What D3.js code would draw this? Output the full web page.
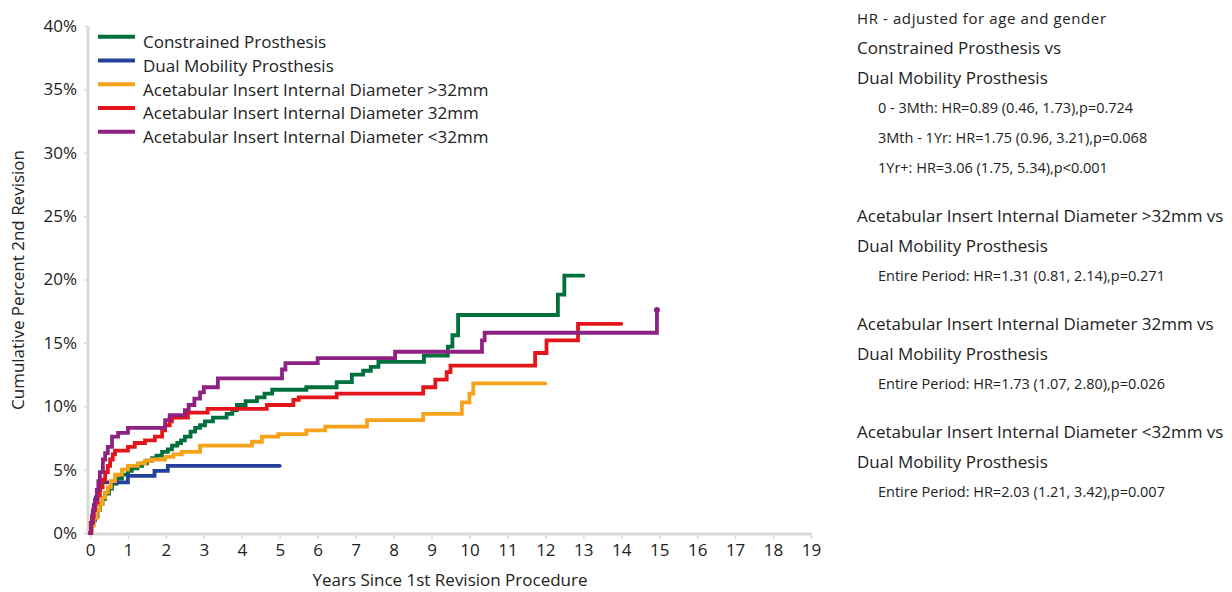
<!DOCTYPE html>
<html><head><meta charset="utf-8">
<script src="https://cdn.jsdelivr.net/npm/d3@7"></script>
<style>
body{margin:0;background:#fff;}
svg{display:block;font-family:"Open Sans","Noto Sans",sans-serif;}
</style></head>
<body><svg id="c" width="1232" height="592"></svg>
<script>
const seriesNames = ["Constrained Prosthesis","Dual Mobility Prosthesis","Acetabular Insert Internal Diameter >32mm","Acetabular Insert Internal Diameter 32mm","Acetabular Insert Internal Diameter <32mm"];
const seriesColors = ["#00703c","#23409a","#f7a21b","#e3151b","#8e2282"];
const constrained = [[0,0],[0.03,0.5],[0.06,1.0],[0.13,1.3],[0.2,1.8],[0.26,2.3],[0.33,2.7],[0.4,3.1],[0.5,3.5],[0.58,3.9],[0.7,4.3],[0.84,4.6],[1.0,4.9],[1.1,5.1],[1.25,5.3],[1.37,5.5],[1.5,5.7],[1.63,5.9],[1.75,6.1],[1.9,6.4],[2.05,6.6],[2.16,6.9],[2.3,7.1],[2.4,7.3],[2.5,7.6],[2.65,8.0],[2.77,8.3],[2.9,8.5],[3.03,8.8],[3.24,9.1],[3.6,9.4],[3.75,9.7],[3.87,10.1],[4.1,10.4],[4.4,10.7],[4.6,11.0],[4.8,11.3],[5.7,11.5],[6.5,11.9],[6.9,12.5],[7.2,12.8],[7.4,13.1],[7.6,13.5],[8.8,14.0],[9.43,14.7],[9.55,15.6],[9.7,17.2],[12.33,18.8],[12.5,20.3],[13.0,20.3]];
const dualMobility = [[0,0],[0.03,0.8],[0.07,1.6],[0.1,2.2],[0.15,2.8],[0.2,3.4],[0.27,4.0],[1.0,4.5],[1.7,4.9],[2.05,5.3],[5.0,5.3]];
const over32 = [[0,0],[0.05,0.6],[0.1,1.2],[0.18,1.8],[0.25,2.3],[0.32,2.8],[0.4,3.2],[0.47,3.6],[0.55,4.1],[0.66,4.6],[0.84,5.0],[1.0,5.3],[1.26,5.5],[1.45,5.7],[1.63,5.8],[1.98,6.0],[2.2,6.2],[2.42,6.4],[2.9,6.9],[4.27,7.2],[4.53,7.6],[4.96,7.8],[5.7,8.1],[6.2,8.4],[7.3,8.9],[8.78,9.4],[9.8,10.3],[10.0,11.0],[10.1,11.8],[12.0,11.8]];
const eq32 = [[0,0],[0.02,0.8],[0.05,1.3],[0.1,2.0],[0.13,2.4],[0.2,3.0],[0.26,3.6],[0.33,4.2],[0.4,4.8],[0.47,5.3],[0.53,5.8],[0.6,6.2],[0.66,6.5],[1.0,6.8],[1.18,7.1],[1.45,7.3],[1.71,7.6],[1.9,8.1],[1.98,8.5],[2.1,8.8],[2.16,9.1],[2.58,9.5],[3.1,9.8],[4.66,10.1],[5.36,10.5],[5.5,10.7],[6.5,11.0],[8.78,11.5],[9.1,12.1],[9.4,12.7],[9.5,13.2],[11.73,14.2],[12.03,15.2],[12.86,16.5],[14.0,16.5]];
const under32 = [[0,0],[0.03,0.8],[0.08,1.8],[0.13,2.6],[0.18,3.4],[0.22,4.1],[0.26,4.8],[0.34,5.8],[0.4,6.3],[0.47,6.8],[0.58,7.6],[0.74,7.9],[1.0,8.3],[1.98,8.9],[2.1,9.3],[2.5,9.7],[2.6,10.1],[2.75,10.6],[2.9,11.1],[3.0,11.5],[3.37,12.2],[5.06,12.9],[5.15,13.4],[6.0,13.8],[8.04,14.3],[10.33,15.2],[10.4,15.8],[14.94,17.6]];
const seriesData = [constrained, dualMobility, over32, eq32, under32];
const xTicks = d3.range(0,20);
const yTicks = [0,5,10,15,20,25,30,35,40];
const hrTitle = "HR - adjusted for age and gender";
const hrBlocks = [
  {head:["Constrained Prosthesis vs","Dual Mobility Prosthesis"], lines:["0 - 3Mth: HR=0.89 (0.46, 1.73),p=0.724","3Mth - 1Yr: HR=1.75 (0.96, 3.21),p=0.068","1Yr+: HR=3.06 (1.75, 5.34),p<0.001"]},
  {head:["Acetabular Insert Internal Diameter >32mm vs","Dual Mobility Prosthesis"], lines:["Entire Period: HR=1.31 (0.81, 2.14),p=0.271"]},
  {head:["Acetabular Insert Internal Diameter 32mm vs","Dual Mobility Prosthesis"], lines:["Entire Period: HR=1.73 (1.07, 2.80),p=0.026"]},
  {head:["Acetabular Insert Internal Diameter <32mm vs","Dual Mobility Prosthesis"], lines:["Entire Period: HR=2.03 (1.21, 3.42),p=0.007"]}
];

const svg = d3.select("#c");
const x = d3.scaleLinear().domain([0,19]).range([90,811]);
const y = d3.scaleLinear().domain([0,40]).range([533,26]);
const txt = "#222";

// axes
const xAxis = svg.append("g").attr("transform","translate(0,534)")
  .call(d3.axisBottom(x).tickValues(xTicks).tickSize(5).tickPadding(5).tickFormat(d3.format("d")));
xAxis.select(".domain").attr("stroke","#d9d9d9").attr("stroke-width",3).attr("d","M88,0H812");
xAxis.selectAll(".tick line").attr("stroke","#d9d9d9").attr("stroke-width",1.5);
xAxis.selectAll(".tick text").attr("font-size",17).attr("fill",txt).attr("font-family","'Open Sans',sans-serif");

const yAxis = svg.append("g").attr("transform","translate(88,0)")
  .call(d3.axisLeft(y).tickValues(yTicks).tickSize(4).tickPadding(7).tickFormat(d=>d+"%"));
yAxis.select(".domain").attr("stroke","#d9d9d9").attr("stroke-width",3).attr("d","M0,26V535");
yAxis.selectAll(".tick line").attr("stroke","#d9d9d9").attr("stroke-width",1.5);
yAxis.selectAll(".tick text").attr("font-size",17).attr("fill",txt).attr("font-family","'Open Sans',sans-serif");

svg.append("text").attr("x",450).attr("y",586).attr("text-anchor","middle")
  .attr("font-size",17).attr("fill",txt).text("Years Since 1st Revision Procedure");
svg.append("text").attr("transform","translate(24,280) rotate(-90)").attr("text-anchor","middle")
  .attr("font-size",17).attr("fill",txt).text("Cumulative Percent 2nd Revision");

// lines
const line = d3.line().x(d=>x(d[0])).y(d=>y(d[1])).curve(d3.curveStepAfter);
seriesData.forEach((s,i)=>{
  svg.append("path").attr("d",line(s)).attr("fill","none")
    .attr("stroke",seriesColors[i]).attr("stroke-width",3.8)
    .attr("stroke-linejoin","miter").attr("stroke-linecap","round");
});
const last = under32[under32.length-1];
svg.append("circle").attr("cx",x(last[0])).attr("cy",y(last[1])).attr("r",3).attr("fill",seriesColors[4]);

// legend
seriesNames.forEach((n,i)=>{
  const ly = 36.7 + i*23.75;
  svg.append("line").attr("x1",98).attr("x2",135).attr("y1",ly).attr("y2",ly)
    .attr("stroke",seriesColors[i]).attr("stroke-width",4);
  svg.append("text").attr("x",143).attr("y",ly+11.5).attr("font-size",17).attr("fill",txt).text(n);
});

// HR text
svg.append("text").attr("x",857).attr("y",24).attr("font-size",15).attr("letter-spacing",0.6).attr("fill",txt).text(hrTitle);
let yy = 48;
hrBlocks.forEach((b,bi)=>{
  b.head.forEach(h=>{
    svg.append("text").attr("x",857).attr("y",yy+6).attr("font-size",17).attr("fill",txt).text(h);
    yy += 30;
  });
  b.lines.forEach(l=>{
    svg.append("text").attr("x",878).attr("y",yy+5).attr("font-size",14.5).attr("fill",txt).text(l);
    yy += 30;
  });
  yy += 18;
});
</script></body></html>
